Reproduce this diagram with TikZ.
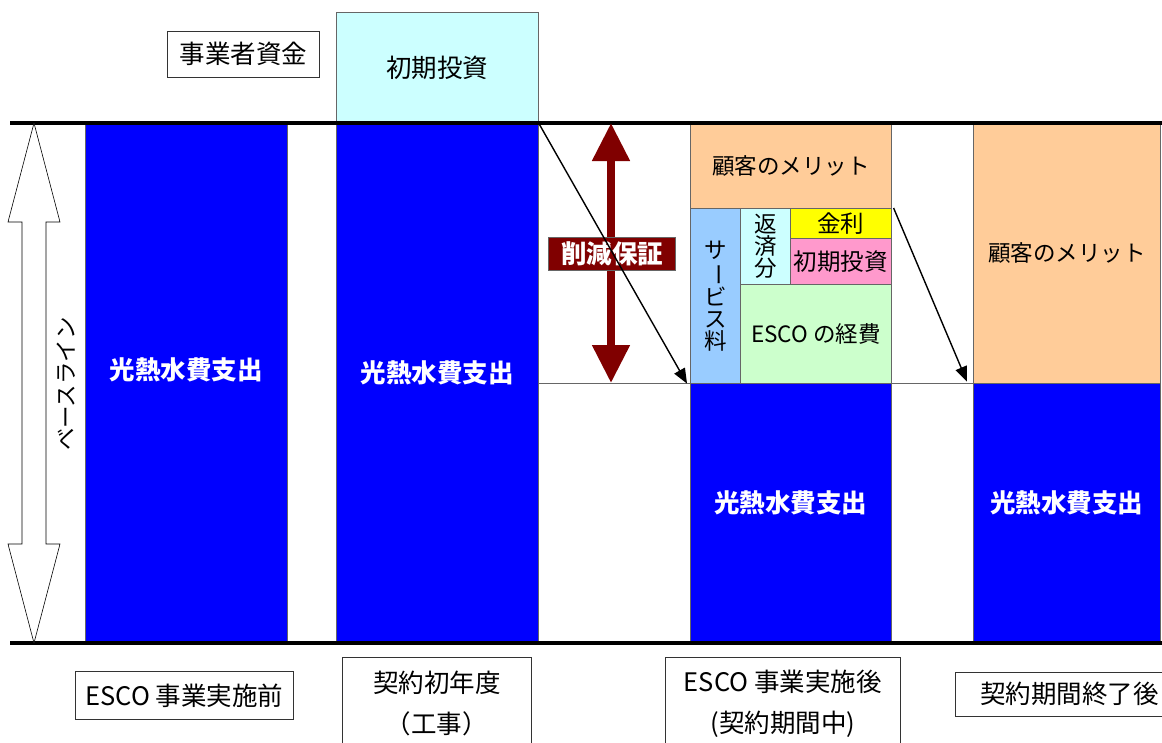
\documentclass[tikz,border=0pt]{standalone}
\usepackage{fontspec}
\setmainfont{Noto Sans CJK JP}
\usetikzlibrary{arrows.meta}

\definecolor{esblue}{HTML}{0000FF}
\definecolor{esred}{HTML}{800000}
\definecolor{escyan}{HTML}{CCFFFF}
\definecolor{esorange}{HTML}{FFCC99}
\definecolor{essky}{HTML}{99CCFF}
\definecolor{esyellow}{HTML}{FFFF00}
\definecolor{espink}{HTML}{FF99CC}
\definecolor{esgreen}{HTML}{CCFFCC}

\tikzset{
  bar/.style={draw=black!60, line width=0.6pt, fill=esblue, inner sep=0pt, anchor=north west},
  bartext/.style={text=white, font=\bfseries\fontsize{25.5}{26}\selectfont, inner sep=0pt},
  cell/.style={draw=black!60, line width=0.6pt, inner sep=0pt, anchor=north west, font=\fontsize{22.5}{21.6}\selectfont, align=center},
  capbox/.style={draw=black!80, line width=0.6pt, fill=white, inner sep=0pt, anchor=north west, font=\fontsize{25.5}{41}\selectfont, align=center},
  flow/.style={-{Triangle[length=15pt,width=12pt]}, line width=1.4pt},
  rule/.style={line width=4pt},
  refline/.style={black!60, line width=0.8pt},
}

\begin{document}
\begin{tikzpicture}[x=1pt, y=-1pt]
	\useasboundingbox (0,0) rectangle (1162,742);
	
	% bars
	\node[bar, minimum width=202pt, minimum height=520pt] (bar1) at (85,123) {};
	\node[bar, minimum width=202pt, minimum height=520pt] (bar2) at (336,123) {};
	\node[bar, minimum width=201pt, minimum height=260pt] (bar3) at (690,383) {};
	\node[bar, minimum width=187pt, minimum height=260pt] (bar4) at (973,383) {};
	\node[bartext] at ([yshift=13pt]bar1.center) {光熱水費支出};
	\node[bartext] at ([yshift=10pt]bar2.center) {光熱水費支出};
	\node[bartext] at ([yshift=10pt]bar3.center) {光熱水費支出};
	\node[bartext] at ([yshift=10pt]bar4.center) {光熱水費支出};
	
	% top
	\node[cell, fill=escyan, font=\fontsize{25.5}{26}\selectfont, minimum width=202pt, minimum height=111pt] (inv) at (336,12) {初期投資};
	\node[capbox, minimum width=152pt, minimum height=46pt] (fund) at (167,31) {事業者資金};
	
	% stack during contract
	\node[cell, fill=esorange, minimum width=201pt, minimum height=85pt] (merit3) at (690,123) {顧客のメリット};
	\node[cell, fill=essky, minimum width=50pt, minimum height=175pt] (svc) at (690,208) {サ\\\rotatebox[origin=c]{-90}{ー}\\ビ\\ス\\料};
	\node[cell, fill=escyan, minimum width=50pt, minimum height=76pt] (repay) at (740,208) {返\\済\\分};
	\node[cell, fill=esyellow, font=\fontsize{23.5}{23}\selectfont, minimum width=101pt, minimum height=30pt] (rate) at (790,208) {金利};
	\node[cell, fill=espink, font=\fontsize{23.5}{23}\selectfont, minimum width=101pt, minimum height=46pt] (loan) at (790,238) {初期投資};
	\node[cell, fill=esgreen, minimum width=151pt, minimum height=99pt] (cost) at (740,284) {ESCO の経費};
	\node[cell, fill=esorange, minimum width=187pt, minimum height=260pt] (merit4) at (973,123) {顧客のメリット};
	
	% baselines
	\draw[rule] (10,123) -- (1162,123);
	\draw[rule] (10,643) -- (1162,643);
	\draw[refline] (bar2.east |- svc.south) -- (svc.south west);
	\draw[refline] (cost.south east) -- (merit4.south west);
	
	% left double arrow
	\draw[fill=white, line width=0.6pt] (34,123) -- (60,222) -- (46,222) -- (46,544) -- (60,544) -- (34,643)
		-- (8,544) -- (22,544) -- (22,222) -- (8,222) -- cycle;
	\node[rotate=90, font=\fontsize{22.5}{22}\selectfont] (base) at (66,384) {ベースライン};
	
	% guarantee
	\coordinate (gtop) at (611,123);
	\coordinate (gbot) at (611,383);
	\draw[esred, line width=8pt, {Triangle[width=36pt,length=38pt]}-{Triangle[width=36pt,length=38pt]}] (gtop) -- (gbot);
	\node[draw=black!60, fill=esred, text=white, font=\bfseries\fontsize{25.5}{26}\selectfont, minimum width=127pt, minimum height=33pt, inner sep=0pt] (cut) at (612,254) {削減保証};
	
	\draw[flow] (bar2.north east) -- ([xshift=-3pt]svc.south west);
	\draw[flow] ([xshift=2pt]rate.north east) -- ([xshift=-6pt,yshift=2pt]merit4.south west);
	
	% captions
	\node[capbox, minimum width=218pt, minimum height=48pt] (before) at (75,671) {ESCO 事業実施前};
	\node[capbox, minimum width=189pt, minimum height=92pt] (first) at (342,657) {契約初年度\\（工事）};
	\node[capbox, minimum width=235pt, minimum height=92pt] (during) at (665,657) {ESCO 事業実施後\\(契約期間中)};
	\node[capbox, minimum width=228pt, minimum height=44pt] (after) at (955,672) {契約期間終了後};
\end{tikzpicture}
\end{document}
